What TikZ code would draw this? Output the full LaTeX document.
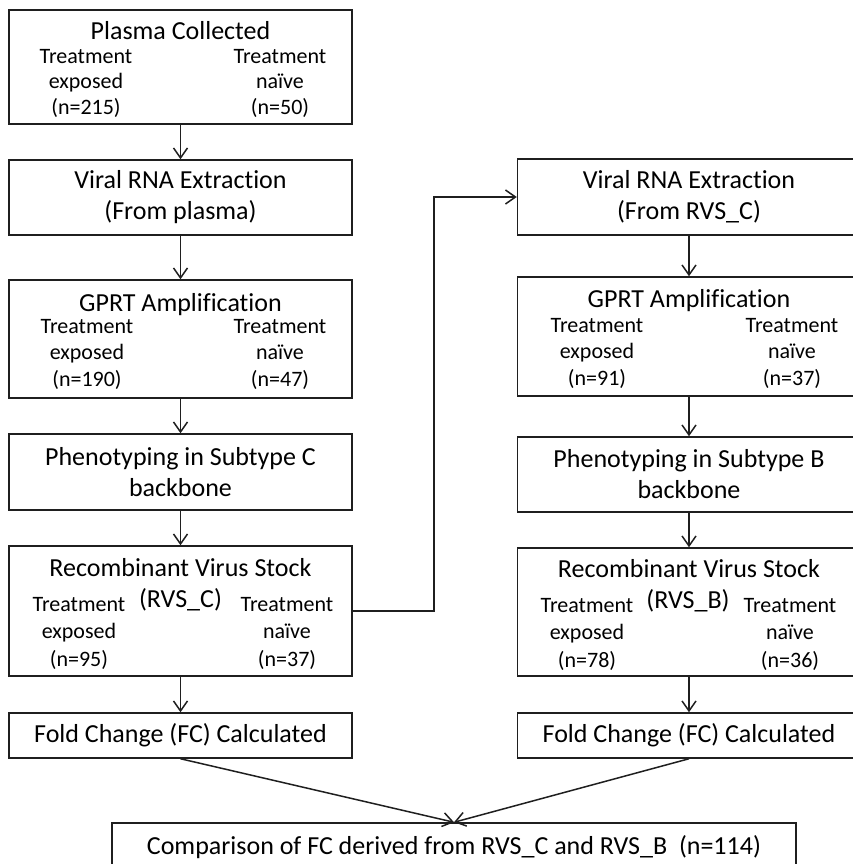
\documentclass[tikz,border=0pt]{standalone}
\usepackage{fontspec}
\setmainfont[Ligatures=NoCommon]{Carlito}
\usetikzlibrary{arrows.meta}
\newcommand\mytitle{\fontsize{26}{31}\selectfont}
\newcommand\mysub{\fontsize{22}{26}\selectfont}
\begin{document}
\begin{tikzpicture}[x=1pt,y=-1pt,
  line/.style={draw=black!88, line width=1.5pt},
  arr/.style={line, -{Straight Barb[length=10pt,width=14pt]}},
  bx/.style={line, minimum width=343pt, inner sep=0pt, align=center, font=\mytitle},
  ttl/.style={font=\mytitle, inner sep=0pt, anchor=base},
  sub/.style={font=\mysub, inner sep=0pt, anchor=base}]
\useasboundingbox (0,0) rectangle (852,864);

% ---------------- left column ----------------
\node[bx, minimum height=114pt] (b1) at (180.5,67) {};
\node[ttl] (b1t) at (180.5,40) {Plasma Collected};
\node[sub] (b1l1) at (86,64) {Treatment};
\node[sub] (b1l2) at (86,89) {exposed};
\node[sub] (b1l3) at (86,114) {(n=215)};
\node[sub] (b1r1) at (280,64) {Treatment};
\node[sub] (b1r2) at (280,89) {naïve};
\node[sub] (b1r3) at (280,114) {(n=50)};

\node[bx, minimum height=75pt] (b2) at (180.5,197.5) {Viral RNA Extraction\\(From plasma)};

\node[bx, minimum height=118pt] (b3) at (180.5,339) {};
\node[ttl] (b3t) at (180.5,311) {GPRT Amplification};
\node[sub] (b3l1) at (87,333) {Treatment};
\node[sub] (b3l2) at (87,359) {exposed};
\node[sub] (b3l3) at (87,386) {(n=190)};
\node[sub] (b3r1) at (280,333) {Treatment};
\node[sub] (b3r2) at (280,359) {naïve};
\node[sub] (b3r3) at (280,386) {(n=47)};

\node[bx, minimum height=76pt] (b4) at (180.5,472) {Phenotyping in Subtype C\\backbone};

\node[bx, minimum height=130pt] (b5) at (180.5,611) {};
\node[ttl] (b5t) at (180.5,576) {Recombinant Virus Stock};
\node[ttl] (b5m) at (180.5,607) {(RVS\_C)};
\node[sub] (b5l1) at (79,611) {Treatment};
\node[sub] (b5l2) at (79,638) {exposed};
\node[sub] (b5l3) at (79,666) {(n=95)};
\node[sub] (b5r1) at (287,611) {Treatment};
\node[sub] (b5r2) at (287,638) {naïve};
\node[sub] (b5r3) at (287,666) {(n=37)};

\node[bx, minimum height=45pt] (b6) at (180.5,735.5) {Fold Change (FC) Calculated};

% ---------------- right column ----------------
\node[bx, minimum height=76pt] (r1) at (689,197) {Viral RNA Extraction\\(From RVS\_C)};

\node[bx, minimum height=119pt] (r2) at (689,336.5) {};
\node[ttl] (r2t) at (689,307) {GPRT Amplification};
\node[sub] (r2l1) at (597,332) {Treatment};
\node[sub] (r2l2) at (597,358) {exposed};
\node[sub] (r2l3) at (597,385) {(n=91)};
\node[sub] (r2r1) at (792,332) {Treatment};
\node[sub] (r2r2) at (792,358) {naïve};
\node[sub] (r2r3) at (792,385) {(n=37)};

\node[bx, minimum height=75pt] (r3) at (689,474.5) {Phenotyping in Subtype B\\backbone};

\node[bx, minimum height=128pt] (r4) at (689,612) {};
\node[ttl] (r4t) at (689,577) {Recombinant Virus Stock};
\node[ttl] (r4m) at (688,608) {(RVS\_B)};
\node[sub] (r4l1) at (587,612) {Treatment};
\node[sub] (r4l2) at (587,639) {exposed};
\node[sub] (r4l3) at (587,667) {(n=78)};
\node[sub] (r4r1) at (790,612) {Treatment};
\node[sub] (r4r2) at (790,639) {naïve};
\node[sub] (r4r3) at (790,667) {(n=36)};

\node[bx, minimum height=45pt] (r5) at (689,735.5) {Fold Change (FC) Calculated};

% ---------------- bottom ----------------
\node[bx, minimum width=684pt, minimum height=48pt] (cmp) at (454,847) {Comparison of FC derived from RVS\_C and RVS\_B\ \ (n=114)};

% ---------------- connectors ----------------
\draw[arr] (b1) -- (b2);
\draw[arr] (b2) -- (b3);
\draw[arr] (b3) -- (b4);
\draw[arr] (b4) -- (b5);
\draw[arr] (b5) -- (b6);
\draw[arr] (r1) -- (r2);
\draw[arr] (r2) -- (r3);
\draw[arr] (r3) -- (r4);
\draw[arr] (r4) -- (r5);
\coordinate (bend) at (434,611);
\draw[arr] (b5.east) -- (bend) |- (r1.west);
\draw[arr] (b6.south) -- (cmp.north);
\draw[arr] (r5.south) -- (cmp.north);
\end{tikzpicture}
\end{document}
